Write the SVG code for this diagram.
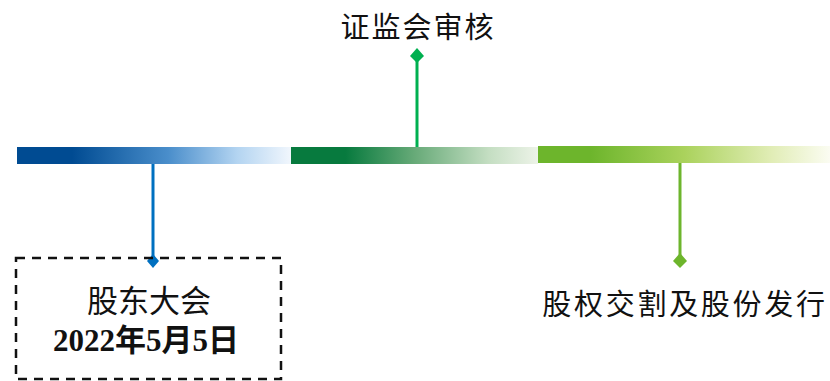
<svg xmlns="http://www.w3.org/2000/svg" width="830" height="381" viewBox="0 0 830 381">
<style>
.t{font-family:"Liberation Sans","Noto Sans CJK SC",sans-serif;font-size:29px;fill:#111;text-anchor:middle;letter-spacing:2px}
.s{font-family:"Liberation Serif","Noto Sans CJK SC",serif;font-size:31px;fill:#111;text-anchor:middle}
</style>
<defs>
<linearGradient id="g1" x1="0" x2="1" y1="0" y2="0">
<stop offset="0.2" stop-color="#004B92"/><stop offset="0.55" stop-color="#4A8ECB"/><stop offset="0.8" stop-color="#B3D4F1"/><stop offset="1" stop-color="#F2F7FD"/>
</linearGradient>
<linearGradient id="g2" x1="0" x2="1" y1="0" y2="0">
<stop offset="0.22" stop-color="#077A3E"/><stop offset="0.5" stop-color="#67AA78"/><stop offset="0.8" stop-color="#C4DEC2"/><stop offset="1" stop-color="#EDF3E8"/>
</linearGradient>
<linearGradient id="g3" x1="0" x2="1" y1="0" y2="0">
<stop offset="0.18" stop-color="#6DB52C"/><stop offset="0.5" stop-color="#AAD25C"/><stop offset="0.8" stop-color="#E1EDB6"/><stop offset="1" stop-color="#FBFCF2"/>
</linearGradient>
</defs>
<g id="bars">
<rect x="17" y="147" width="275" height="17" fill="url(#g1)"/>
<rect x="291" y="147" width="247" height="17" fill="url(#g2)"/>
<rect x="538" y="146" width="292" height="17" fill="url(#g3)"/>
</g>
<g id="connectors">
<line x1="153" y1="164" x2="153" y2="260" stroke="#0070C0" stroke-width="3"/>
<path d="M153 254 L159 261 L153 268 L147 261 Z" fill="#0070C0"/>
<line x1="417" y1="147" x2="417" y2="57" stroke="#00B050" stroke-width="3"/>
<path d="M417 48 L424 56 L417 63 L410 56 Z" fill="#00B050"/>
<line x1="680" y1="163" x2="680" y2="260" stroke="#6DB52C" stroke-width="3"/>
<path d="M680 253 L687 261 L680 268 L673 261 Z" fill="#6DB52C"/>
</g>
<g id="node-gudong">
<rect x="16" y="258" width="265" height="121" fill="none" stroke="#111" stroke-width="2.5" stroke-dasharray="9,7"/>
<text class="s" x="149" y="312">股东大会</text>
<text class="s" x="146" y="351" font-weight="bold">2022年5月5日</text>
</g>
<g id="node-zjh">
<text class="t" x="418" y="38">证监会审核</text>
</g>
<g id="node-jiaoge">
<text class="t" x="685" y="315" style="letter-spacing:2.7px">股权交割及股份发行</text>
</g>
</svg>
